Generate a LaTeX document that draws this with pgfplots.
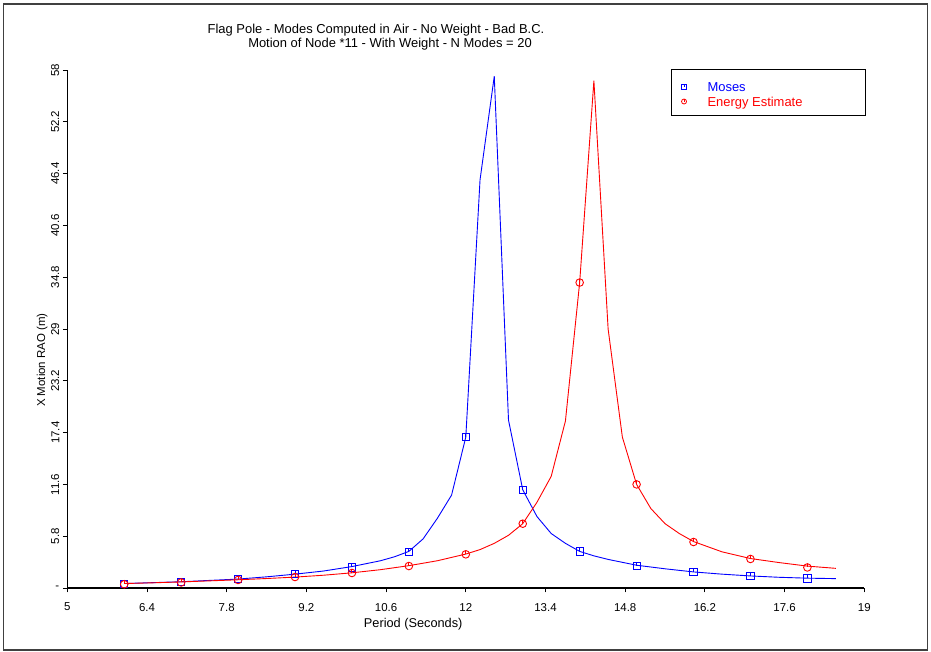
\documentclass[border=0pt]{standalone}
\usepackage{pgfplots}
\usepackage{pgfplotstable}
\pgfplotsset{compat=1.18}
\usepackage{fontspec}
\setmainfont{Liberation Sans}

\pgfplotstableread{
x y
6 0.45
7 0.65
8 1.0
9 1.53
10 2.3
11 4.0
12 16.9
13 11.0
14 4.1
15 2.5
16 1.79
17 1.34
18 1.08
}\mosespts

\pgfplotstableread{
x y
6 0.42
7 0.62
8 0.9
9 1.23
10 1.68
11 2.46
12 3.77
13 7.2
14 34.2
15 11.6
16 5.15
17 3.25
18 2.3
}\energypts

\pgfplotstableread{
x y
6 0.5
6.5 0.6
7 0.7
7.5 0.85
8 1.0
8.5 1.25
9 1.55
9.5 1.9
10 2.4
10.5 3.05
10.75 3.5
11 4.1
11.25 5.5
11.5 7.8
11.75 10.4
12 16.9
12.25 45.7
12.5 57.3
12.75 18.8
13 11.0
13.25 8.0
13.5 6.1
13.75 5.0
14 4.1
14.25 3.6
14.5 3.2
15 2.55
15.5 2.15
16 1.8
16.5 1.55
17 1.35
17.5 1.2
18 1.1
18.5 1.05
}\mosesline

\pgfplotstableread{
x y
6 0.5
6.5 0.58
7 0.68
7.5 0.8
8 0.92
8.5 1.06
9 1.22
9.5 1.43
10 1.7
10.5 2.05
11 2.5
11.5 3.05
12 3.8
12.25 4.3
12.5 5.0
12.75 5.9
13 7.2
13.25 9.6
13.5 12.5
13.75 18.7
14 34.2
14.25 56.8
14.5 29.0
14.75 16.9
15 11.6
15.25 8.9
15.5 7.2
15.75 6.1
16 5.2
16.5 4.05
17 3.3
17.5 2.85
18 2.45
18.5 2.2
}\energyline

\pgfdeclareplotmark{sqtick}{%
  \pgfpathrectangle{\pgfpoint{-\pgfplotmarksize}{-\pgfplotmarksize}}{\pgfpoint{2\pgfplotmarksize}{2\pgfplotmarksize}}%
  \pgfusepathqstroke
  \pgfpathmoveto{\pgfpoint{0pt}{\pgfplotmarksize}}%
  \pgfpathlineto{\pgfpoint{0pt}{0pt}}%
  \pgfusepathqstroke}
\pgfdeclareplotmark{circtick}{%
  \pgfpathcircle{\pgfpoint{0pt}{0pt}}{\pgfplotmarksize}%
  \pgfusepathqstroke
  \pgfpathmoveto{\pgfpoint{0pt}{\pgfplotmarksize}}%
  \pgfpathlineto{\pgfpoint{0pt}{0pt}}%
  \pgfusepathqstroke}

\begin{document}
\begin{tikzpicture}
\useasboundingbox (0,0) rectangle (931bp,652bp);
\draw[line width=1.5bp, black!75] (3.5bp,2bp) rectangle (927.5bp,648bp);
\node[font=\fontsize{13}{15}\selectfont, inner sep=0pt] at (376bp,622bp) {Flag Pole - Modes Computed in Air - No Weight - Bad B.C.};
\node[font=\fontsize{13}{15}\selectfont, inner sep=0pt] at (390bp,607.5bp) {Motion of Node *11 - With Weight - N Modes = 20};
\begin{axis}[
  at={(67.3bp,64bp)}, anchor=south west,
  scale only axis, width=797bp, height=518bp,
  xmin=5, xmax=19, ymin=0, ymax=58,
  enlargelimits=false,
  axis lines*=left,
  axis line style={line width=1.2bp, black},
  tick style={line width=0.9bp, black},
  tick align=outside,
  major tick length=4.5bp,
  /pgf/number format/assume math mode=true,
  xtick={5,6.4,7.8,9.2,10.6,12,13.4,14.8,16.2,17.6,19},
  xticklabels={5,6.4,7.8,9.2,10.6,12,13.4,14.8,16.2,17.6,19},
  ytick={0,5.8,11.6,17.4,23.2,29,34.8,40.6,46.4,52.2,58},
  yticklabels={\rotatebox{-90}{-},5.8,11.6,17.4,23.2,29,34.8,40.6,46.4,52.2,58},
  ticklabel style={font=\fontsize{11.5}{13}\selectfont},
  xticklabel style={yshift=-7bp},
  yticklabel style={rotate=90, anchor=south},
  legend style={at={(0.7575,1.002)}, anchor=north west, draw=black, line width=1bp, fill=white,
    font=\fontsize{13}{15}\selectfont, inner xsep=10bp, inner ysep=6bp, row sep=-4.7bp,
    nodes={inner sep=2bp},
    /tikz/every odd column/.append style={column sep=19bp}},
  legend image code/.code={\draw[#1, mark size=2.5bp, line width=0.8bp] plot coordinates {(2.5bp,-1.5bp)};},
  legend cell align=left,
  clip=false,
]
\addplot[blue, line width=0.9bp, forget plot] table {\mosesline};
\addplot[red, line width=0.9bp, forget plot] table {\energyline};
\addplot[blue, only marks, mark=sqtick, mark size=3.6bp, line width=0.9bp] table {\mosespts};
\addlegendentry{\makebox[146bp][l]{\rule{0pt}{14bp}\textcolor{blue}{Moses}}}
\addplot[red, only marks, mark=circtick, mark size=3.8bp, line width=0.9bp] table {\energypts};
\addlegendentry{\makebox[146bp][l]{\rule{0pt}{14bp}\textcolor{red}{Energy Estimate}}}
\node[rotate=90, font=\fontsize{11.5}{13}\selectfont, inner sep=0pt] at (rel axis cs:-0.0317,0.44) {X Motion RAO (m)};
\node[font=\fontsize{12.8}{15}\selectfont, inner sep=0pt] at (rel axis cs:0.434,-0.0695) {Period (Seconds)};
\end{axis}
\end{tikzpicture}
\end{document}
